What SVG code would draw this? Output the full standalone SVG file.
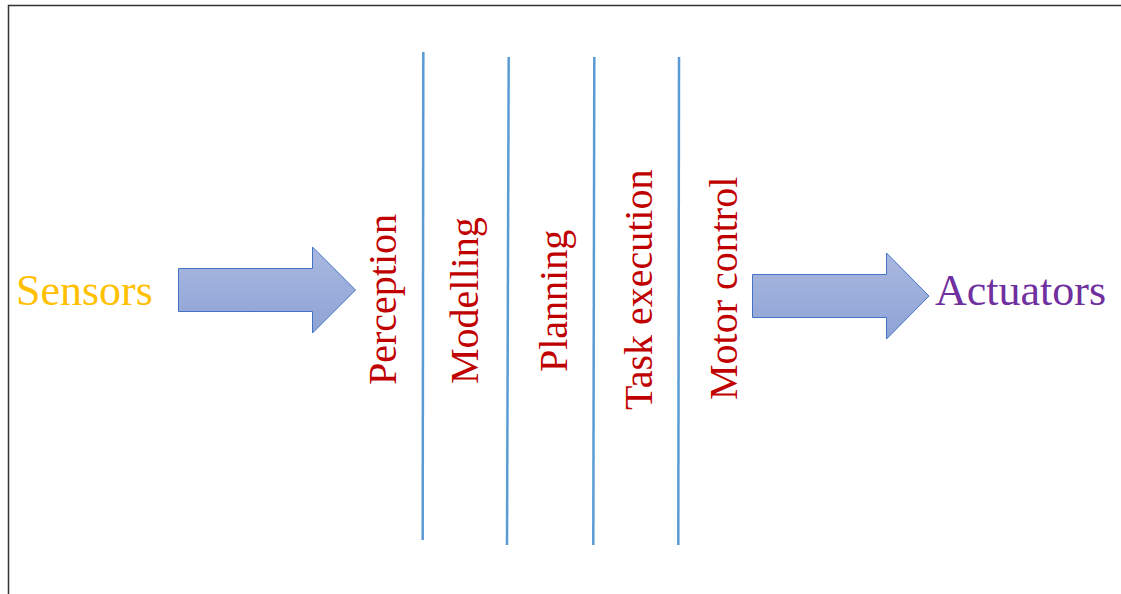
<svg xmlns="http://www.w3.org/2000/svg" width="1121" height="594" viewBox="0 0 1121 594">
<style>
.frame{stroke:#333;stroke-width:1.5;fill:none}
.layer{stroke:#5b9bd5;stroke-width:2.5;fill:none}
.arrow{fill:url(#ag);stroke:#4472c4;stroke-width:1}
.lbl{font-family:"Liberation Serif","Times New Roman",serif;font-size:40px;fill:#c00000}
.io{font-family:"Liberation Serif","Times New Roman",serif;font-size:44px}
</style>
<defs>
<linearGradient id="ag" x1="0" y1="0" x2="0" y2="1">
<stop offset="0" stop-color="#a9b8df"/>
<stop offset="1" stop-color="#8ea3d6"/>
</linearGradient>
</defs>
<rect width="1121" height="594" fill="#fff"/>
<path class="frame" d="M8.5 594 V5.5 H1121"/>
<g id="connectors">
<line class="layer" x1="423.3" y1="52" x2="422.7" y2="540"/>
<line class="layer" x1="508.7" y1="57" x2="507" y2="545"/>
<line class="layer" x1="594.3" y1="57" x2="593.3" y2="545"/>
<line class="layer" x1="679" y1="57" x2="678.3" y2="545"/>
</g>
<g id="arrow-in"><path class="arrow" d="M178.5 268.5 H312.5 V247 L355.5 290 L312.5 333 V311.5 H178.5 Z"/></g>
<g id="arrow-out"><path class="arrow" d="M752.5 274.5 H886.5 V253 L929 296 L886.5 339 V317.5 H752.5 Z"/></g>
<g id="sensors"><text class="io" x="16" y="305" fill="#ffc000">Sensors</text></g>
<g id="actuators"><text class="io" x="935" y="305" fill="#7030a0">Actuators</text></g>
<g id="perception"><text class="lbl" transform="translate(396 385) rotate(-90)">Perception</text></g>
<g id="modelling"><text class="lbl" transform="translate(478 384) rotate(-90)">Modelling</text></g>
<g id="planning"><text class="lbl" transform="translate(567 372) rotate(-90)">Planning</text></g>
<g id="task-execution"><text class="lbl" transform="translate(652 410) rotate(-90)">Task execution</text></g>
<g id="motor-control"><text class="lbl" transform="translate(737 400) rotate(-90)">Motor control</text></g>
</svg>
